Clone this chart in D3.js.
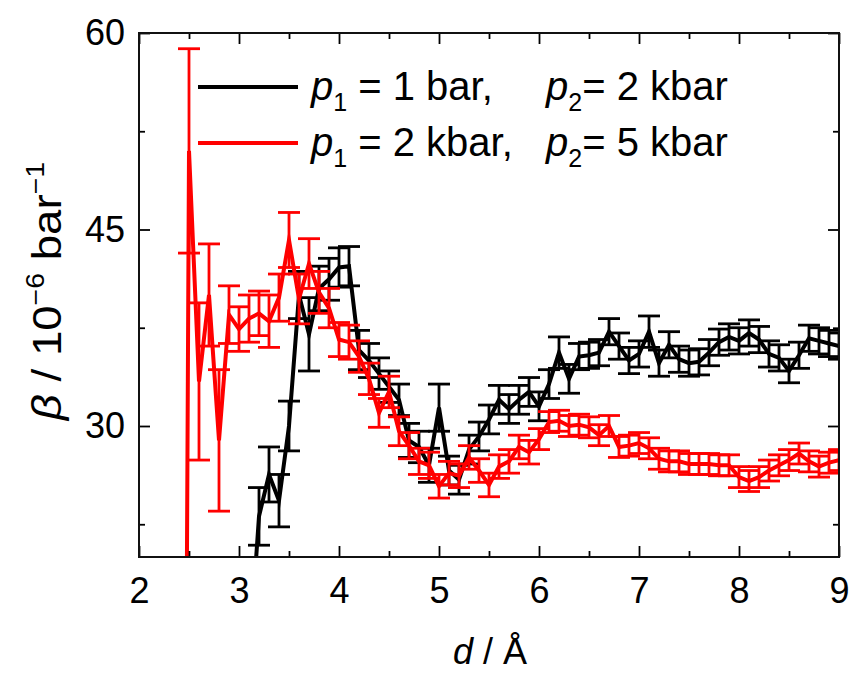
<!DOCTYPE html>
<html><head><meta charset="utf-8">
<script src="https://cdn.jsdelivr.net/npm/d3@7"></script>
<style>
body{margin:0;background:#fff}
text{font-family:"Liberation Sans",Arial,sans-serif;fill:#000}
</style>
</head><body><svg id="c" width="853" height="673"></svg>
<script>
// ---- data ----
const dBlack = [3.1,3.2,3.3,3.4,3.5,3.6,3.7,3.8,3.9,4.0,4.1,4.2,4.3,4.4,4.5,4.6,4.7,4.8,4.9,5.0,
  5.1,5.2,5.3,5.4,5.5,5.6,5.7,5.8,5.9,6.0,6.1,6.2,6.3,6.4,6.5,6.6,6.7,6.8,6.9,7.0,
  7.1,7.2,7.3,7.4,7.5,7.6,7.7,7.8,7.9,8.0,8.1,8.2,8.3,8.4,8.5,8.6,8.7,8.8,8.9,9.0];
const betaBlack = [12,23.1,26.3,24.3,30.0,40.0,37.0,40.5,41.2,42.1,42.2,35.8,35.0,34.0,33.0,32.0,28.9,28.4,27.0,31.4,
  26.6,25.9,28.2,29.2,30.5,32.0,31.3,32.0,32.6,31.5,33.2,35.6,33.6,35.3,35.4,35.6,37.2,36.1,35.0,35.5,
  37.2,34.8,36.2,35.1,34.8,34.9,35.6,36.4,36.8,36.5,37.1,36.6,35.5,35.2,34.2,35.4,36.7,36.5,36.3,36.1];
const errBlack = [2.0,2.2,2.1,2.0,1.9,1.8,2.8,1.7,1.6,1.5,1.5,1.5,1.3,1.2,1.2,1.2,1.3,1.2,1.3,1.8,
  1.1,1.1,1.1,1.1,1.1,1.1,1.1,1.1,1.1,1.1,1.1,1.2,1.1,1.0,1.0,1.0,1.0,1.0,1.0,1.0,
  1.2,1.0,1.0,1.0,1.0,1.0,1.0,1.0,1.0,1.0,1.0,1.0,1.0,1.0,0.9,1.0,1.0,1.0,1.0,1.0];

const dRed = [2.4,2.5,2.6,2.7,2.8,2.9,3.0,3.1,3.2,3.3,3.4,3.5,3.6,3.7,3.8,3.9,4.0,4.1,4.2,4.3,
  4.4,4.5,4.6,4.7,4.8,4.9,5.0,5.1,5.2,5.3,5.4,5.5,5.6,5.7,5.8,5.9,6.0,6.1,6.2,6.3,
  6.4,6.5,6.6,6.7,6.8,6.9,7.0,7.1,7.2,7.3,7.4,7.5,7.6,7.7,7.8,7.9,8.0,8.1,8.2,8.3,
  8.4,8.5,8.6,8.7,8.8,8.9,9.0];
const betaRed = [-100,51.0,33.4,40.0,28.9,38.5,37.4,38.2,38.6,38.0,39.8,44.2,39.7,42.4,40.2,39.0,36.6,36.4,35.3,33.6,
  31.0,32.6,29.6,28.5,27.3,27.0,25.4,26.4,26.2,27.6,26.6,25.5,26.9,27.3,28.4,28.0,29.0,30.3,30.4,30.0,
  30.1,29.9,29.3,30.0,28.4,28.5,28.7,28.3,27.5,27.3,27.3,27.1,27.1,27.1,27.0,27.0,26.1,25.8,26.1,26.6,
  27.0,27.4,27.9,27.3,26.9,27.2,27.4];
const errRed = [8,7.8,6.0,3.9,5.4,2.2,1.7,1.8,1.7,2.0,1.8,2.1,1.9,1.9,1.6,1.5,1.3,1.3,1.2,1.2,
  1.1,1.2,1.1,1.0,1.0,1.0,0.9,0.9,0.9,0.9,0.9,0.9,0.9,0.9,0.9,0.9,0.8,0.8,0.8,0.8,
  0.8,0.8,0.8,0.8,0.8,0.8,0.8,0.8,0.8,0.8,0.8,0.8,0.8,0.8,0.8,0.8,0.8,0.8,0.8,0.8,
  0.8,0.8,0.8,0.8,0.8,0.8,0.8];

const xMajor = [2,3,4,5,6,7,8,9];
const xMinor = [2.5,3.5,4.5,5.5,6.5,7.5,8.5];
const yMajor = [30,45,60];
const yMinor = [22.5,37.5,52.5];
const seriesColors = ["#000000","#ff0000"];

// ---- layout ----
const svg = d3.select("#c");
const L = 139, R = 839, T = 33, B = 557;
const x = d3.scaleLinear().domain([2,9]).range([L,R]);
const y = d3.scaleLinear().domain([20,60]).range([B,T]);

svg.append("defs").append("clipPath").attr("id","clip")
  .append("rect").attr("x",L).attr("y",T).attr("width",R-L).attr("height",B-T);

const plot = svg.append("g").attr("clip-path","url(#clip)");

function drawSeries(ds, vs, es, color){
  const pts = ds.map((d,i)=>({d, v:vs[i], e:es[i]}));
  const g = plot.append("g");
  const eb = g.append("g").attr("stroke",color).attr("stroke-width",2.8).attr("fill","none");
  pts.forEach(p=>{
    const px = x(p.d), y1 = y(p.v+p.e), y2 = y(p.v-p.e);
    eb.append("line").attr("x1",px).attr("x2",px).attr("y1",y1).attr("y2",y2);
    eb.append("line").attr("x1",px-11).attr("x2",px+11).attr("y1",y1).attr("y2",y1);
    eb.append("line").attr("x1",px-11).attr("x2",px+11).attr("y1",y2).attr("y2",y2);
  });
  g.append("path").datum(pts)
    .attr("d", d3.line().x(p=>x(p.d)).y(p=>y(p.v)))
    .attr("fill","none").attr("stroke",color).attr("stroke-width",4)
    .attr("stroke-linejoin","miter").attr("stroke-miterlimit",6);
}
drawSeries(dBlack, betaBlack, errBlack, seriesColors[0]);
drawSeries(dRed, betaRed, errRed, seriesColors[1]);

// ---- axes / frame ----
function styleAxis(g){
  g.select(".domain").remove();
  g.selectAll(".tick line").attr("stroke","#000").attr("stroke-width",1.8);
}
svg.append("g").attr("transform",`translate(0,${B})`)
  .call(d3.axisBottom(x).tickValues(xMajor).tickSize(-11).tickPadding(20).tickFormat(d3.format("d")))
  .call(styleAxis)
  .call(g=>g.selectAll("text").attr("font-size",36).attr("font-family","Liberation Sans, Arial").attr("fill","#000"));
svg.append("g").attr("transform",`translate(0,${B})`)
  .call(d3.axisBottom(x).tickValues(xMinor).tickSize(-6).tickFormat("")).call(styleAxis);
svg.append("g").attr("transform",`translate(0,${T})`)
  .call(d3.axisTop(x).tickValues(xMajor).tickSize(-11).tickFormat("")).call(styleAxis);
svg.append("g").attr("transform",`translate(0,${T})`)
  .call(d3.axisTop(x).tickValues(xMinor).tickSize(-6).tickFormat("")).call(styleAxis);
svg.append("g").attr("transform",`translate(${L},0)`)
  .call(d3.axisLeft(y).tickValues(yMajor).tickSize(-11).tickPadding(14).tickFormat(d3.format("d")))
  .call(styleAxis)
  .call(g=>g.selectAll("text").attr("font-size",36).attr("font-family","Liberation Sans, Arial").attr("fill","#000"));
svg.append("g").attr("transform",`translate(${L},0)`)
  .call(d3.axisLeft(y).tickValues(yMinor).tickSize(-6).tickFormat("")).call(styleAxis);
svg.append("g").attr("transform",`translate(${R},0)`)
  .call(d3.axisRight(y).tickValues(yMajor).tickSize(-11).tickFormat("")).call(styleAxis);
svg.append("g").attr("transform",`translate(${R},0)`)
  .call(d3.axisRight(y).tickValues(yMinor).tickSize(-6).tickFormat("")).call(styleAxis);

svg.append("rect").attr("x",L).attr("y",T).attr("width",R-L).attr("height",B-T)
  .attr("fill","none").attr("stroke","#111").attr("stroke-width",2);

// ---- axis titles ----
const xt = svg.append("text").attr("x",490).attr("y",664).attr("text-anchor","middle").attr("font-size",36);
xt.append("tspan").attr("font-style","italic").text("d");
xt.append("tspan").text(" / Å");

const yt = svg.append("text").attr("transform","translate(61,291) rotate(-90) scale(1.14,1)")
  .attr("text-anchor","middle").attr("font-size",40);
yt.append("tspan").attr("font-style","italic").text("β");
yt.append("tspan").text(" / 10");
yt.append("tspan").attr("font-size",25).attr("dy",-17).text("−6");
yt.append("tspan").attr("dy",17).text(" bar");
yt.append("tspan").attr("font-size",25).attr("dy",-17).text("−1");

// ---- legend ----
const legendRows = [
  {color:seriesColors[0], p1:"1 bar,", p2:"2 kbar", ly:87},
  {color:seriesColors[1], p1:"2 kbar,", p2:"5 kbar", ly:143}
];
const FS = 40;
legendRows.forEach(r=>{
  svg.append("line").attr("x1",198).attr("x2",298).attr("y1",r.ly).attr("y2",r.ly)
    .attr("stroke",r.color).attr("stroke-width",4);
  const t1 = svg.append("text").attr("x",311).attr("y",r.ly+13).attr("font-size",FS);
  t1.append("tspan").attr("font-style","italic").text("p");
  t1.append("tspan").attr("font-size",25).attr("dy",11).text("1");
  t1.append("tspan").attr("dy",-11).text(" = " + r.p1);
  const t2 = svg.append("text").attr("x",546).attr("y",r.ly+13).attr("font-size",FS);
  t2.append("tspan").attr("font-style","italic").text("p");
  t2.append("tspan").attr("font-size",25).attr("dy",11).text("2");
  t2.append("tspan").attr("dy",-11).text("= " + r.p2);
});
</script>
</body></html>
